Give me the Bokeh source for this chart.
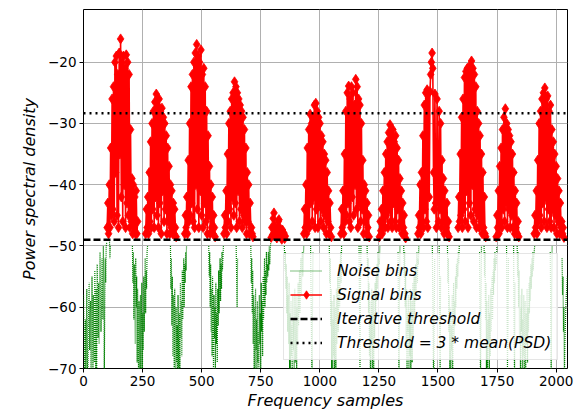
import math
from bokeh.plotting import figure
from bokeh.models import Legend, LegendItem, FixedTicker, Range1d, CustomJSTickFormatter
from bokeh.embed import file_html
from bokeh.resources import INLINE

# ---------------- data ----------------
N_BINS = 2048
SIGNAL_STEP = 3               # bin spacing between listed signal values
NOISE_STEP = 2                # bin spacing between listed noise values
iterative_threshold = -49.0
mean_threshold = -28.35

x_ticks = [0, 250, 500, 750, 1000, 1250, 1500, 1750, 2000]
y_ticks = [-70, -60, -50, -40, -30, -20]

# signal bins: start bin of each burst
signal_starts = [100, 263, 428, 594, 794, 932, 1089, 1252, 1415, 1585, 1746, 1907]

sig_1 = [-47, -43, -48, -40, -47, -34, -45, -26, -44, -24, -46, -20, -38, -19, -45, -22,
         -47, -18.5, -35, -16.2, -42, -20, -46, -19, -40, -21, -47, -18.8, -43, -20, -45,
         -22, -47, -31, -46, -39, -48, -40, -47, -42, -48, -41, -48, -46]
sig_2 = [-48, -44, -47, -42, -48, -38, -46, -33, -47, -30, -44, -28, -47, -26.5, -42, -25.2,
         -45, -27, -47, -26, -43, -28, -48, -27.5, -41, -29, -46, -30, -44, -32, -48, -34,
         -46, -37, -48, -40, -47, -41, -48, -43, -48, -44, -47, -48.5]
sig_3 = [-48, -45, -47, -42, -48, -36, -46, -30, -45, -24, -43, -22, -46, -20, -47, -18.5,
         -40, -17.1, -44, -19, -47, -20, -41, -18, -45, -22, -47, -21, -43, -24, -46, -28,
         -48, -32, -45, -37, -48, -40, -47, -42, -48, -45, -47, -48.5]
sig_4 = [-48, -45, -47, -41, -48, -35, -46, -30, -44, -28, -47, -26, -42, -25, -45, -23.2,
         -43, -24, -47, -25, -41, -26, -46, -27, -44, -28, -47, -29, -45, -31, -46, -34,
         -48, -38, -46, -40, -48, -43, -47, -47, -48, -48.5]
sig_5 = [-48.6, -47, -48.2, -45.5, -44.6, -46.8, -48, -47.2, -48.7, -47.5, -46, -45.7, -47,
         -48.3, -47.8, -48.9, -47.4, -48.5, -47.9, -48.8, -48.4]
sig_6 = [-48, -44, -47, -40, -48, -34, -46, -31, -47, -28.5, -43, -30, -46, -29, -42, -27,
         -47, -26.7, -44, -28, -47, -29, -43, -30, -46, -32, -44, -33, -47, -35, -45, -36,
         -48, -38, -46, -41, -48, -43, -47, -48.5]
sig_7 = [-48, -44, -47, -41, -48, -35, -46, -28, -45, -25, -43, -23.9, -46, -26, -47, -24,
         -42, -25, -45, -27, -40, -22.8, -44, -24, -47, -26, -43, -27, -46, -30, -44, -36,
         -48, -40, -46, -41, -48, -43, -47, -45, -48.5]
sig_8 = [-48.5, -46, -47.5, -44, -48, -41, -46, -38, -47, -35, -45, -33, -47, -31.5, -44,
         -30.2, -46, -32, -47, -31, -43, -33, -46, -32, -47, -34, -44, -36, -47, -39, -46,
         -41, -48, -43, -47, -45, -48, -48.7]
sig_9 = [-48, -45, -47, -40, -48, -38, -46, -32, -47, -27, -44, -25, -46, -24.5, -47, -25,
         -42, -24.8, -22, -20, -18.5, -21, -38, -44, -25.2, -43, -47, -26, -41, -46, -28,
         -44, -30, -47, -36, -46, -39, -48, -41, -46, -47, -43, -48, -46, -48.5]
sig_10 = [-47, -42, -46, -35, -45, -29, -47, -26, -44, -22.5, -46, -21.5, -41, -21, -47, -22,
          -43, -20.5, -45, -19.8, -40, -21, -46, -22, -44, -24, -47, -28, -45, -30, -47, -32,
          -46, -35, -48, -38, -47, -42, -48, -48.5]
sig_11 = [-48.5, -45, -47, -41, -48, -37, -46, -34, -47, -31, -44, -29, -46, -27.6, -43, -30,
          -47, -31, -44, -32, -47, -33, -45, -35, -47, -38, -48, -41, -47, -43, -48, -46, -48.5]
sig_12 = [-48, -45, -47, -41, -48, -36, -46, -30, -45, -28, -47, -26, -43, -25, -46, -24.2,
          -42, -26, -47, -25.5, -44, -28, -46, -27, -47, -31, -44, -33, -47, -35, -45, -37,
          -48, -39, -46, -41, -48, -43, -47, -46, -48, -47, -48.6]
signal_series = [sig_1, sig_2, sig_3, sig_4, sig_5, sig_6, sig_7, sig_8, sig_9, sig_10,
                 sig_11, sig_12]

# noise bins: start bin of each run
noise_starts = [0, 207, 368, 530, 708, 850, 1040, 1200, 1355, 1540, 1695, 1835, 2025,
                110, 961, 1166, 1331, 1476, 1505, 1676, 1790, 1820, 1975, 646]
noise_1 = [-58, -64, -71, -66, -62, -72, -65, -57, -68, -74, -63, -60, -56, -67, -61, -59,
           -73, -64, -55, -63, -70, -58, -66, -69, -54, -61, -72, -57, -70, -53, -60, -65,
           -56, -66, -58, -51, -58, -64, -60, -52, -57, -62, -50, -55, -72, -60, -52, -56,
           -50, -49.5]
noise_2 = [-50, -56, -51, -62, -53, -58, -66, -52, -60, -55, -69, -57, -64, -72, -59, -66,
           -74, -58, -70, -62, -56, -73, -61, -67, -55, -64, -58, -52, -61, -54, -57, -51, -50]
noise_3 = [-50, -57, -52, -63, -55, -68, -58, -62, -71, -57, -66, -74, -60, -69, -63, -72,
           -58, -67, -74, -61, -70, -56, -65, -59, -68, -54, -62, -57, -52, -60, -53, -56,
           -51, -54, -50]
noise_4 = [-50, -55, -51, -60, -53, -64, -57, -68, -55, -62, -70, -58, -65, -60, -71, -56,
           -66, -61, -69, -57, -63, -54, -61, -56, -52, -59, -53, -57, -51, -54, -52, -50]
noise_5 = [-50, -56, -52, -61, -54, -66, -58, -70, -60, -73, -57, -67, -62, -74, -59, -69,
           -64, -72, -58, -66, -61, -71, -56, -64, -59, -68, -55, -62, -57, -52, -60, -54,
           -58, -51, -56, -53, -55, -51, -54, -50, -53, -51, -49.5]
noise_6 = [-50, -54, -51, -57, -53, -61, -55, -64, -58, -66, -56, -70, -61, -74, -59, -68,
           -63, -72, -58, -67, -62, -74, -57, -69, -64, -58, -71, -60, -66, -56, -63, -58,
           -54, -61, -55, -52, -58, -53, -51, -55, -52, -50, -50]
noise_7 = [-50, -56, -52, -63, -57, -70, -59, -74, -62, -68, -58, -73, -64, -60, -71, -57,
           -66, -61, -55, -64, -58, -53, -60, -54, -51, -56, -50]
noise_8 = [-50, -55, -52, -61, -56, -68, -59, -73, -62, -66, -57, -71, -63, -58, -70, -61,
           -65, -56, -62, -55, -59, -53, -57, -51, -55, -52, -53, -50]
noise_9 = [-50, -55, -51, -60, -54, -66, -57, -70, -61, -64, -58, -73, -62, -68, -57, -72,
           -63, -59, -69, -56, -65, -60, -55, -62, -57, -53, -59, -54, -51, -56, -52, -53, -50]
noise_10 = [-50, -56, -52, -64, -58, -71, -60, -74, -63, -67, -58, -72, -61, -56, -66, -59,
            -63, -55, -60, -53, -57, -52, -55, -51, -53, -50]
noise_11 = [-50, -55, -51, -62, -56, -70, -59, -73, -62, -66, -58, -72, -61, -68, -57, -64,
            -59, -55, -62, -54, -58, -52, -56, -51, -54, -52, -53, -50]
noise_12 = [-50, -55, -51, -60, -54, -66, -58, -71, -60, -64, -57, -74, -62, -68, -58, -70,
            -63, -59, -72, -61, -66, -57, -69, -60, -64, -56, -61, -55, -59, -53, -57, -52,
            -55, -51, -54, -52, -51, -50]
noise_13 = [-52, -58, -55, -64, -60, -72, -66, -63, -60, -58, -57, -55]
noise_14 = [-49, -52, -50]
noise_15 = [-50, -58, -66, -72, -60, -51]
noise_16 = [-50, -61, -70, -57, -50]
noise_17 = [-51, -63, -72, -58, -50]
noise_18 = [-50, -57, -68, -74, -62, -52]
noise_19 = [-50, -60, -71, -55]
noise_20 = [-51, -62, -73, -60, -50]
noise_21 = [-50, -58, -70, -63, -52]
noise_22 = [-50, -64, -72, -56]
noise_23 = [-51, -60, -72, -58, -50]
noise_24 = [-50, -55, -60, -52]
noise_series = [noise_1, noise_2, noise_3, noise_4, noise_5, noise_6, noise_7, noise_8,
                noise_9, noise_10, noise_11, noise_12, noise_13, noise_14, noise_15,
                noise_16, noise_17, noise_18, noise_19, noise_20, noise_21, noise_22,
                noise_23, noise_24]

legend_labels = ["Noise bins", "Signal bins", "Iterative threshold",
                 "Threshold = 3 * mean(PSD)"]


def runs_to_xy(starts, runs, step):
    xs, ys = [], []
    for s, vals in zip(starts, runs):
        xs += [s + step * i for i in range(len(vals))] + [math.nan]
        ys += list(vals) + [math.nan]
    return xs, ys


sx, sy = runs_to_xy(signal_starts, signal_series, SIGNAL_STEP)
nx, ny = runs_to_xy(noise_starts, noise_series, NOISE_STEP)

# ---------------- figure ----------------
FONT = "DejaVu Sans"
p = figure(width=580, height=414, output_backend="svg", toolbar_location=None,
           x_range=Range1d(0, N_BINS), y_range=Range1d(-70, -11.4),
           min_border_left=83, min_border_right=13, min_border_top=9,
           min_border_bottom=46)
p.background_fill_color = "white"
p.border_fill_color = "white"
p.outline_line_color = "black"
p.outline_line_width = 1

r_noise = p.line(nx, ny, line_color="green", line_width=1.2, line_dash="1 1")
r_sig_line = p.line(sx, sy, line_color="red", line_width=1.6)
r_sig_pts = p.scatter(sx, sy, marker="diamond", size=10, fill_color="red",
                      line_color="red", line_width=0.8)
r_iter = p.line([0, N_BINS], [iterative_threshold, iterative_threshold],
                line_color="black", line_width=2.5, line_dash="7 3")
r_mean = p.line([0, N_BINS], [mean_threshold, mean_threshold],
                line_color="black", line_width=2.5, line_dash="2 4")

p.xaxis.ticker = FixedTicker(ticks=x_ticks)
p.yaxis.ticker = FixedTicker(ticks=y_ticks)
p.yaxis.formatter = CustomJSTickFormatter(
    code="return (tick < 0 ? '\\u2212' : '') + Math.abs(tick).toString();")

for ax in (p.xaxis[0], p.yaxis[0]):
    ax.axis_line_color = None
    ax.major_tick_in = 0
    ax.major_tick_out = 4
    ax.major_tick_line_color = "black"
    ax.minor_tick_line_color = None
    ax.major_label_text_font = FONT
    ax.major_label_text_font_size = "13.5px"
    ax.major_label_text_color = "black"
    ax.axis_label_text_font = FONT
    ax.axis_label_text_font_style = "italic"
    ax.axis_label_text_font_size = "16px"
    ax.axis_label_text_color = "black"
    ax.major_label_standoff = 3

p.xaxis.axis_label = "Frequency samples"
p.yaxis.axis_label = "Power spectral density"
p.xaxis.axis_label_standoff = 2
p.yaxis.axis_label_standoff = 6

p.grid.grid_line_color = "#b0b0b0"
p.grid.grid_line_width = 1

legend = Legend(items=[
    LegendItem(label=legend_labels[0], renderers=[r_noise]),
    LegendItem(label=legend_labels[1], renderers=[r_sig_line, r_sig_pts]),
    LegendItem(label=legend_labels[2], renderers=[r_iter]),
    LegendItem(label=legend_labels[3], renderers=[r_mean]),
], location=(200, 8))
legend.label_text_font = FONT
legend.label_text_font_style = "italic"
legend.label_text_font_size = "15.5px"
legend.label_text_color = "black"
legend.glyph_width = 32
legend.glyph_height = 21
legend.label_height = 21
legend.label_standoff = 15
legend.spacing = 3
legend.padding = 6
legend.margin = 0
legend.background_fill_color = "white"
legend.background_fill_alpha = 0.8
legend.border_line_color = "#cccccc"
legend.border_line_width = 1
p.add_layout(legend, "center")

open("out.html", "w").write(file_html(p, INLINE))
